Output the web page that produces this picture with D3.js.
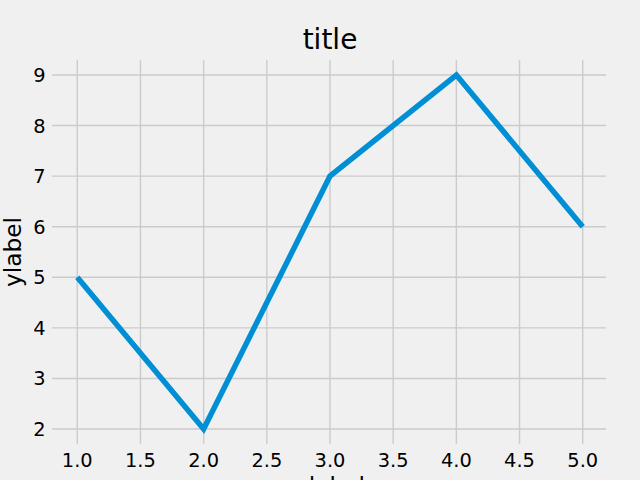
<!DOCTYPE html>
<html>
<head>
<meta charset="utf-8">
<script src="https://cdn.jsdelivr.net/npm/d3@7"></script>
<style>
body { margin: 0; background: #f0f0f0; }
text { font-family: "DejaVu Sans", sans-serif; fill: #000; }
</style>
</head>
<body>
<script>
var xs = [1, 2, 3, 4, 5];
var ys = [5, 2, 7, 9, 6];
var xTicks = [1.0, 1.5, 2.0, 2.5, 3.0, 3.5, 4.0, 4.5, 5.0];
var yTicks = [2, 3, 4, 5, 6, 7, 8, 9];

var width = 640, height = 480;
var plotL = 52, plotR = 608, plotT = 57.3, plotB = 446.7;

var svg = d3.select("body").append("svg")
	.attr("width", width)
	.attr("height", height)
	.style("display", "block");

svg.append("rect").attr("width", width).attr("height", height).attr("fill", "#f0f0f0");

var x = d3.scaleLinear().domain([0.8, 5.2]).range([plotL, plotR]);
var y = d3.scaleLinear().domain([1.65, 9.35]).range([plotB, plotT]);

// grid
svg.append("g").selectAll("line").data(xTicks).enter().append("line")
	.attr("x1", d => x(d)).attr("x2", d => x(d))
	.attr("y1", plotT + 3).attr("y2", plotB - 3)
	.attr("stroke", "#cbcbcb").attr("stroke-width", 1.4);
svg.append("g").selectAll("line").data(yTicks).enter().append("line")
	.attr("x1", plotL).attr("x2", plotR - 2)
	.attr("y1", d => y(d)).attr("y2", d => y(d))
	.attr("stroke", "#cbcbcb").attr("stroke-width", 1.4);

// tick labels
svg.append("g").selectAll("text").data(xTicks).enter().append("text")
	.attr("x", d => x(d)).attr("y", 467)
	.attr("text-anchor", "middle")
	.attr("font-size", "19.4px")
	.text(d => d.toFixed(1));
svg.append("g").selectAll("text").data(yTicks).enter().append("text")
	.attr("x", 45.5).attr("y", d => y(d))
	.attr("text-anchor", "end")
	.attr("dy", "0.36em")
	.attr("font-size", "19.4px")
	.text(d => d);

// line
var line = d3.line().x((d, i) => x(xs[i])).y(d => y(d));
svg.append("path")
	.attr("d", line(ys))
	.attr("fill", "none")
	.attr("stroke", "#008fd5")
	.attr("stroke-width", 5.5);

// labels (xlabel is cut by the bottom edge, as in the original)
svg.append("text").attr("x", (plotL + plotR) / 2).attr("y", 49)
	.attr("text-anchor", "middle").attr("font-size", "28px").text("title");
svg.append("text").attr("x", (plotL + plotR) / 2).attr("y", 494)
	.attr("text-anchor", "middle").attr("font-size", "23.3px").text("xlabel");
svg.append("text")
	.attr("transform", "translate(21," + ((plotT + plotB) / 2) + ")rotate(-90)")
	.attr("text-anchor", "middle").attr("font-size", "23.3px").text("ylabel");
</script>
</body>
</html>
